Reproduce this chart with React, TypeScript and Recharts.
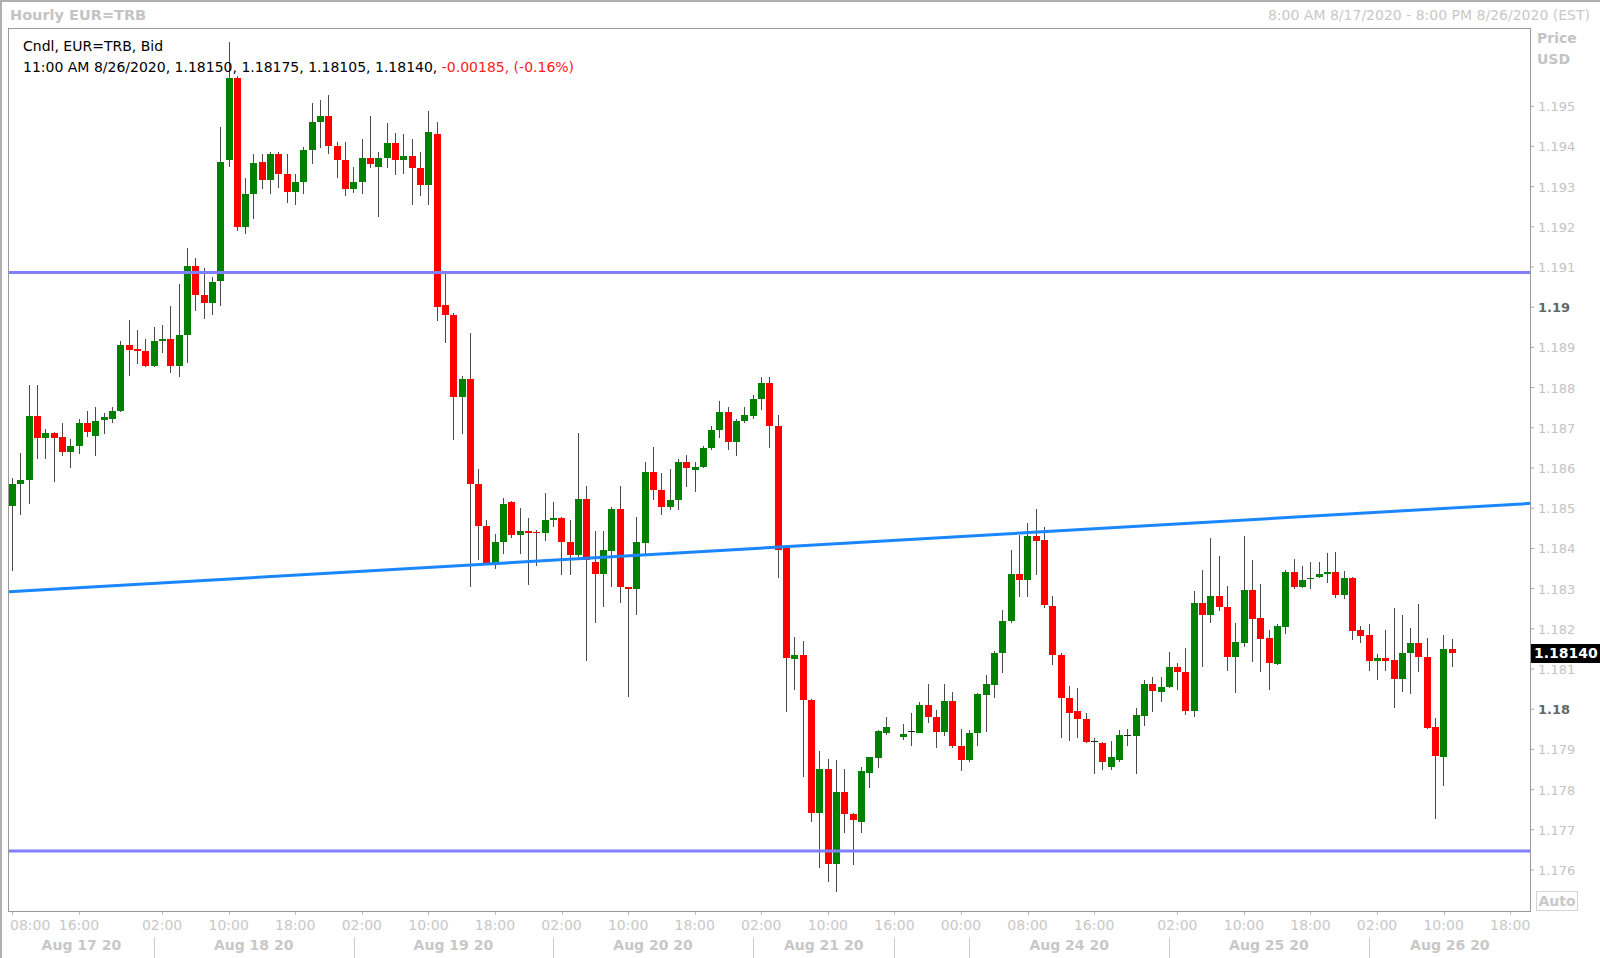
import React from "react";
import { Bar, ComposedChart, ReferenceLine, XAxis, YAxis } from "recharts";

// hourly candles, index 0 = 8:00 AM 8/17/2020 (index 106 is the weekend gap)
const OPEN = [
  1.18505, 1.1856, 1.1857, 1.18729, 1.18674, 1.18687, 1.18677, 1.18639, 1.18654, 1.18711,
  1.18679, 1.18719, 1.18721, 1.18741, 1.18905, 1.18896, 1.18891, 1.18853, 1.18915, 1.1892,
  1.18853, 1.1893, 1.19102, 1.1903, 1.1901, 1.19065, 1.19366, 1.1957, 1.19199, 1.19281,
  1.19361, 1.19316, 1.19381, 1.19331, 1.19286, 1.19311, 1.19391, 1.1946, 1.19475, 1.19401,
  1.19366, 1.19294, 1.19311, 1.19371, 1.19348, 1.19371, 1.19408, 1.19366, 1.19376, 1.19346,
  1.19304, 1.1943, 1.19005, 1.1898, 1.18776, 1.18821, 1.1856, 1.18455, 1.18363, 1.18415,
  1.18515, 1.18433, 1.18443, 1.1844, 1.18438, 1.1847, 1.18475, 1.18415, 1.18383, 1.18524,
  1.18366, 1.18336, 1.18393, 1.18498, 1.18303, 1.18298, 1.18413, 1.1859, 1.18545, 1.18503,
  1.1852, 1.18614, 1.18595, 1.18602, 1.1865, 1.18694, 1.18739, 1.18664, 1.18716, 1.18729,
  1.18771, 1.18811, 1.18704, 1.184, 1.18124, 1.18134, 1.18022, 1.17741, 1.17851, 1.17614,
  1.17794, 1.17739, 1.17719, 1.17841, 1.17878, 1.1794, null, 1.17932, 1.17945, 1.1794,
  1.1801, 1.1798, 1.17943, 1.1802, 1.17908, 1.17873, 1.1794, 1.18035, 1.1806, 1.18139,
  1.18219, 1.18336, 1.18321, 1.1843, 1.1842, 1.18256, 1.18134, 1.18027, 1.17995, 1.17975,
  1.1792, 1.17915, 1.17856, 1.17873, 1.17935, 1.17933, 1.17983, 1.18062, 1.18042, 1.18055,
  1.18104, 1.18092, 1.17995, 1.18264, 1.18234, 1.18281, 1.18254, 1.18129, 1.18164, 1.18296,
  1.18226, 1.18177, 1.18112, 1.18204, 1.18341, 1.18303, 1.18325, 1.18328, 1.18336, 1.18341,
  1.18284, 1.18326, 1.18197, 1.18184, 1.18119, 1.18127, 1.18122, 1.18075, 1.18139, 1.18164,
  1.18129, 1.17955, 1.17881, 1.1815
];

const HIGH = [
  1.18575, 1.18637, 1.18806, 1.18806, 1.18697, 1.18689, 1.18711, 1.18672, 1.18721, 1.18741,
  1.18751, 1.18736, 1.18751, 1.18915, 1.18968, 1.18943, 1.1892, 1.1895, 1.18955, 1.19002,
  1.19057, 1.19147, 1.19122, 1.19097, 1.19075, 1.19448, 1.19659, 1.19575, 1.19321, 1.19381,
  1.19381, 1.19386, 1.19386, 1.19381, 1.19331, 1.19398, 1.19508, 1.19515, 1.19528, 1.19411,
  1.19411, 1.19348, 1.19418, 1.19475, 1.19386, 1.19458, 1.19433, 1.1943, 1.19418, 1.19386,
  1.19488, 1.1946, 1.19085, 1.18985, 1.1883, 1.18935, 1.18597, 1.1847, 1.18435, 1.18525,
  1.18517, 1.185, 1.18475, 1.18445, 1.18537, 1.18515, 1.18478, 1.1847, 1.18687, 1.18555,
  1.18443, 1.18443, 1.18503, 1.18555, 1.18305, 1.18478, 1.18614, 1.18652, 1.18587, 1.18597,
  1.18622, 1.18632, 1.18614, 1.18654, 1.18704, 1.18766, 1.18751, 1.18721, 1.18751, 1.18781,
  1.18826, 1.18826, 1.18731, 1.18405, 1.18179, 1.18169, 1.18025, 1.17896, 1.17876, 1.17873,
  1.17851, 1.17741, 1.17856, 1.17882, 1.17948, 1.1798, null, 1.17963, 1.1799, 1.18017,
  1.18062, 1.17999, 1.18062, 1.18043, 1.1795, 1.17948, 1.1804, 1.18085, 1.18144, 1.18246,
  1.18396, 1.18433, 1.18463, 1.18498, 1.18453, 1.18281, 1.18139, 1.18057, 1.18052, 1.1799,
  1.17928, 1.17918, 1.17921, 1.17948, 1.1795, 1.18002, 1.18072, 1.1808, 1.1808, 1.18142,
  1.18114, 1.18152, 1.18293, 1.18346, 1.18425, 1.18381, 1.18306, 1.18214, 1.1843, 1.18371,
  1.18311, 1.18197, 1.18211, 1.18346, 1.18373, 1.18356, 1.18366, 1.18366, 1.18388, 1.1839,
  1.18344, 1.1833, 1.18207, 1.18211, 1.18137, 1.18197, 1.18251, 1.18234, 1.18201, 1.18261,
  1.18177, 1.17977, 1.18184, 1.18175
];

const LOW = [
  1.18343, 1.18483, 1.1851, 1.18622, 1.18622, 1.18565, 1.1863, 1.186, 1.18634, 1.18677,
  1.18629, 1.18684, 1.18711, 1.18739, 1.18828, 1.18858, 1.1885, 1.1885, 1.18886, 1.18836,
  1.18826, 1.18861, 1.1899, 1.1897, 1.1898, 1.19002, 1.19348, 1.19189, 1.19182, 1.19219,
  1.19294, 1.19281, 1.19296, 1.19259, 1.19254, 1.19281, 1.19356, 1.19396, 1.19381, 1.19321,
  1.19276, 1.19284, 1.19281, 1.19346, 1.19224, 1.19346, 1.19328, 1.19331, 1.19254, 1.19276,
  1.19254, 1.18965, 1.1891, 1.18669, 1.18684, 1.18303, 1.18371, 1.1836, 1.18348, 1.18386,
  1.18425, 1.18386, 1.18308, 1.18356, 1.18418, 1.18453, 1.18333, 1.18333, 1.18378, 1.18119,
  1.18214, 1.18254, 1.18303, 1.18264, 1.1803, 1.18234, 1.1838, 1.1852, 1.18483, 1.18495,
  1.18495, 1.18552, 1.1854, 1.186, 1.18644, 1.18674, 1.18644, 1.18629, 1.18711, 1.18721,
  1.18744, 1.18649, 1.18326, 1.17993, 1.18047, 1.17832, 1.17719, 1.17604, 1.1757, 1.17545,
  1.17692, 1.17612, 1.17692, 1.17803, 1.17853, 1.17935, null, 1.17923, 1.17908, 1.1794,
  1.17965, 1.17904, 1.17933, 1.17904, 1.17846, 1.17869, 1.17908, 1.17943, 1.18027, 1.1809,
  1.18214, 1.18279, 1.18279, 1.18333, 1.18251, 1.18109, 1.17928, 1.1792, 1.17928, 1.17915,
  1.1784, 1.17848, 1.17848, 1.17869, 1.17908, 1.1784, 1.17958, 1.17993, 1.18017, 1.18052,
  1.18047, 1.17985, 1.1798, 1.18105, 1.18214, 1.18244, 1.18095, 1.1804, 1.18154, 1.18117,
  1.18092, 1.18047, 1.18109, 1.18187, 1.183, 1.18301, 1.18298, 1.18326, 1.18313, 1.18276,
  1.18274, 1.18172, 1.18164, 1.18095, 1.18072, 1.18095, 1.18003, 1.18042, 1.18038, 1.18092,
  1.1795, 1.17726, 1.17808, 1.18105
];

const CLOSE = [
  1.1856, 1.1857, 1.18729, 1.18674, 1.18687, 1.18674, 1.18639, 1.18654, 1.18711, 1.18689,
  1.18716, 1.18726, 1.18741, 1.18905, 1.18893, 1.18891, 1.18853, 1.18915, 1.1892, 1.18853,
  1.1893, 1.19102, 1.1903, 1.1901, 1.19062, 1.19361, 1.1957, 1.19199, 1.19281, 1.19358,
  1.19316, 1.19381, 1.19331, 1.19286, 1.19311, 1.19391, 1.1946, 1.19475, 1.19401, 1.19366,
  1.19294, 1.19311, 1.19371, 1.19356, 1.19371, 1.19408, 1.19366, 1.19376, 1.19346, 1.19304,
  1.19435, 1.19, 1.1898, 1.18776, 1.18821, 1.1856, 1.18455, 1.18363, 1.18415, 1.1851,
  1.18433, 1.18443, 1.18438, 1.18438, 1.1847, 1.18475, 1.18415, 1.18383, 1.18524, 1.18371,
  1.18336, 1.18396, 1.18498, 1.18303, 1.18298, 1.18415, 1.1859, 1.18545, 1.18503, 1.1852,
  1.18614, 1.186, 1.18602, 1.1865, 1.18694, 1.18739, 1.18664, 1.18716, 1.18731, 1.18771,
  1.18811, 1.18704, 1.18396, 1.18127, 1.18134, 1.18022, 1.17741, 1.17851, 1.17614, 1.17794,
  1.17739, 1.17724, 1.17846, 1.1788, 1.17945, 1.17955, null, 1.17938, 1.17945, 1.1801,
  1.1798, 1.17943, 1.1802, 1.17908, 1.17873, 1.17942, 1.18037, 1.18062, 1.18139, 1.18219,
  1.18336, 1.18321, 1.1843, 1.18418, 1.18259, 1.18134, 1.18027, 1.1799, 1.17975, 1.17918,
  1.17921, 1.17869, 1.17881, 1.17935, 1.17936, 1.17985, 1.18062, 1.18045, 1.18055, 1.18104,
  1.18092, 1.17995, 1.18264, 1.18234, 1.18281, 1.18254, 1.18129, 1.18166, 1.18296, 1.18224,
  1.18174, 1.18114, 1.18207, 1.18341, 1.18303, 1.18321, 1.18326, 1.18336, 1.18341, 1.18284,
  1.18326, 1.18195, 1.18182, 1.18119, 1.18127, 1.18119, 1.18075, 1.18139, 1.18164, 1.18129,
  1.17953, 1.17883, 1.18149, 1.1814
];

const TIME_TICKS = [0, 8, 18, 26, 34, 42, 50, 58, 66, 74, 82, 90, 98, 106, 114, 122, 130, 140, 148, 156, 164, 172, 180];
const TIME_LABELS = [
  "08:00", "16:00", "02:00", "10:00", "18:00", "02:00", "10:00", "18:00", "02:00", "10:00", "18:00", "02:00",
  "10:00", "16:00", "00:00", "08:00", "16:00", "02:00", "10:00", "18:00", "02:00", "10:00", "18:00"
];
const DAY_BREAKS = [17, 41, 65, 89, 106, 115, 139, 163];
const DAY_LABELS = ["Aug 17 20", "Aug 18 20", "Aug 19 20", "Aug 20 20", "Aug 21 20", "", "Aug 24 20", "Aug 25 20", "Aug 26 20"];

const PRICE_TICKS = [
  1.176, 1.177, 1.178, 1.179, 1.18, 1.181, 1.182, 1.183, 1.184, 1.185,
  1.186, 1.187, 1.188, 1.189, 1.19, 1.191, 1.192, 1.193, 1.194, 1.195
];

const X_DOMAIN = [-0.4, 182.5];
const Y_DOMAIN = [1.17498, 1.19692];
const RESISTANCE = 1.19086;
const SUPPORT = 1.17647;
const TREND_START = { x: -0.4, y: 1.18292 };
const TREND_END = { x: 182.5, y: 1.18512 };
const LAST_PRICE = 1.1814;

const FONT = "'DejaVu Sans', Verdana, sans-serif";

const candles = OPEN.map((o, i) =>
  o == null ? null : { i, o, h: HIGH[i] as number, l: LOW[i] as number, c: CLOSE[i] as number }
).filter(Boolean) as { i: number; o: number; h: number; l: number; c: number }[];

// date row: separators + labels centred between them
const dayEdges = [X_DOMAIN[0], ...DAY_BREAKS, X_DOMAIN[1]];
const dayCentres = DAY_LABELS.map((_, k) => (dayEdges[k] + dayEdges[k + 1]) / 2);
const dateTicks = [...DAY_BREAKS, ...dayCentres.filter((_, k) => DAY_LABELS[k] !== "")];

const Candle = (props: any) => {
  const { x, y, width, height, payload } = props;
  if (!payload || !isFinite(y) || !isFinite(height)) return <g />;
  const { o, h, l, c } = payload;
  const yOf = (v: number) => (h === l ? y : y + ((h - v) / (h - l)) * height);
  const left = Math.round(x + width / 2 - 3.5);
  const mid = left + 3.5;
  const top = Math.round(yOf(Math.max(o, c)));
  const bot = Math.round(yOf(Math.min(o, c)));
  const doji = bot - top < 1;
  return (
    <g>
      <line x1={mid} x2={mid} y1={Math.round(y)} y2={Math.round(y + height)} stroke="#4a4a4a" />
      {doji ? (
        <line x1={left} x2={left + 7} y1={top + 0.5} y2={top + 0.5} stroke="#222" />
      ) : (
        <rect x={left} y={top} width={7} height={bot - top} fill={c >= o ? "#008000" : "#ff0000"} />
      )}
    </g>
  );
};

const TimeTick = (props: any) => {
  const { x, y, payload } = props;
  const k = TIME_TICKS.indexOf(payload.value);
  const first = k === 0;
  const px = Math.round(x) + 0.5;
  return (
    <g>
      <line x1={px} x2={px} y1={y - 8} y2={y - 4} stroke="#b8b8b8" />
      <text x={first ? 10 : x} y={y + 11} textAnchor={first ? "start" : "middle"} fill="#c8c8c8" fontSize={14} fontFamily={FONT}>
        {TIME_LABELS[k]}
      </text>
    </g>
  );
};

const DateTick = (props: any) => {
  const { x, y, payload } = props;
  const v = payload.value;
  if (DAY_BREAKS.includes(v)) {
    const px = Math.round(x) + 0.5;
    return <line x1={px} x2={px} y1={y - 8} y2={y + 14} stroke="#cfcfcf" />;
  }
  const k = dayCentres.indexOf(v);
  return (
    <text x={x} y={y + 5} textAnchor="middle" fill="#c8c8c8" fontSize={14} fontWeight="bold" fontFamily={FONT}>
      {DAY_LABELS[k]}
    </text>
  );
};

const PriceTick = (props: any) => {
  const { x, y, payload } = props;
  const label = parseFloat(Number(payload.value).toFixed(3)).toString();
  const major = label.length === 4;
  return (
    <text x={x} y={y + 5} textAnchor="start" fill={major ? "#666" : "#c4c4c4"} fontWeight={major ? "bold" : "normal"} fontSize={13} fontFamily={FONT}>
      {label}
    </text>
  );
};

const PriceTag = (props: any) => {
  const vb = props.viewBox;
  if (!vb) return null;
  const x = vb.x + vb.width;
  return (
    <g>
      <rect x={x} y={Math.round(vb.y) - 9} width={69} height={19} fill="#000" />
      <text x={x + 3} y={Math.round(vb.y) + 5} fill="#fff" fontWeight="bold" fontSize={14} fontFamily={FONT}>
        {LAST_PRICE.toFixed(5)}
      </text>
    </g>
  );
};

export default function App() {
  return (
    <div style={{ position: "absolute", left: 0, top: 0, width: 1600, height: 958, background: "#fff", overflow: "hidden", fontFamily: FONT }}>
      <ComposedChart width={1600} height={958} data={candles} margin={{ top: 29, right: 0, bottom: 0, left: 9 }}>
        <XAxis xAxisId="a" type="number" dataKey="i" domain={X_DOMAIN} allowDataOverflow ticks={TIME_TICKS} interval={0} tick={<TimeTick />} tickLine={false} axisLine={false} height={26} />
        <XAxis xAxisId="b" type="number" dataKey="i" domain={X_DOMAIN} allowDataOverflow ticks={dateTicks} interval={0} tick={<DateTick />} tickLine={false} axisLine={false} height={21} />
        <YAxis orientation="right" type="number" domain={Y_DOMAIN} allowDataOverflow ticks={PRICE_TICKS} interval={0} tick={<PriceTick />} tickSize={3} tickMargin={4} tickLine={{ stroke: "#a8a8a8" }} axisLine={false} width={69} />
        <Bar xAxisId="a" dataKey={(d: any) => [d.l, d.h]} barSize={7} shape={Candle} isAnimationActive={false} />
        <ReferenceLine xAxisId="a" y={RESISTANCE} stroke="#8080ff" strokeWidth={3} />
        <ReferenceLine xAxisId="a" y={SUPPORT} stroke="#8080ff" strokeWidth={3} />
        <ReferenceLine xAxisId="a" segment={[TREND_START, TREND_END]} stroke="#1a86ff" strokeWidth={3} />
        <ReferenceLine xAxisId="a" y={LAST_PRICE} stroke="none" label={<PriceTag />} />
      </ComposedChart>

      <div style={{ position: "absolute", left: 0, top: 0, width: 1600, height: 958, borderLeft: "2px solid #b0b0b0", borderTop: "2px solid #b0b0b0", boxSizing: "border-box", pointerEvents: "none" }} />
      <div style={{ position: "absolute", left: 8, top: 28, width: 1523, height: 884, border: "1px solid #9a9a9a", boxSizing: "border-box", pointerEvents: "none" }} />

      <div style={{ position: "absolute", left: 10, top: 6, fontSize: 14.5, lineHeight: "18px", fontWeight: "bold", color: "#c4c4c4" }}>Hourly EUR=TRB</div>
      <div style={{ position: "absolute", right: 10, top: 6, fontSize: 14, lineHeight: "18px", color: "#c8c8c8" }}>8:00 AM 8/17/2020 - 8:00 PM 8/26/2020 (EST)</div>
      <div style={{ position: "absolute", left: 1537, top: 29, fontSize: 14, lineHeight: "18px", fontWeight: "bold", color: "#c4c4c4" }}>Price</div>
      <div style={{ position: "absolute", left: 1537, top: 50, fontSize: 14, lineHeight: "18px", fontWeight: "bold", color: "#c4c4c4" }}>USD</div>
      <div style={{ position: "absolute", left: 1536, top: 891, width: 42, height: 20, border: "1px solid #d4d4d4", boxSizing: "border-box", fontSize: 14, lineHeight: "18px", fontWeight: "bold", color: "#c8c8c8", textAlign: "center" }}>Auto</div>

      <div style={{ position: "absolute", left: 23, top: 37, fontSize: 14, lineHeight: "18px", color: "#000" }}>Cndl, EUR=TRB, Bid</div>
      <div style={{ position: "absolute", left: 23, top: 58, fontSize: 14, lineHeight: "18px", color: "#000", whiteSpace: "nowrap" }}>
        11:00 AM 8/26/2020, 1.18150, 1.18175, 1.18105, 1.18140, <span style={{ color: "#ff2020" }}>-0.00185, (-0.16%)</span>
      </div>
    </div>
  );
}
